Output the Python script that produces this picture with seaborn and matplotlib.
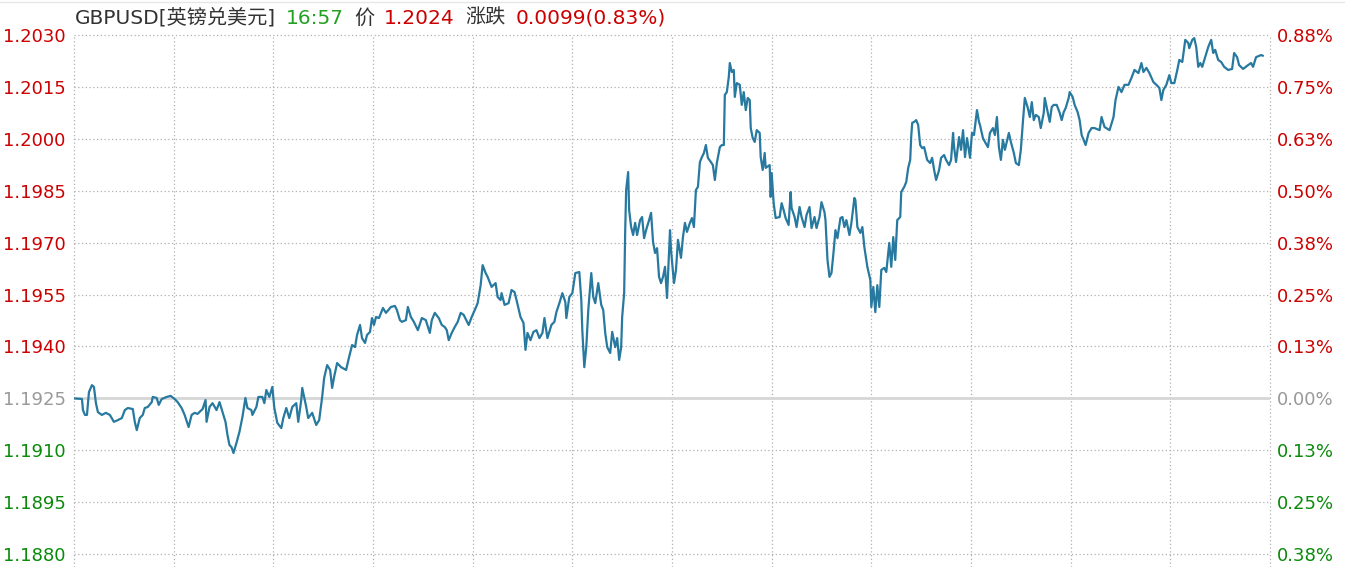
import matplotlib
matplotlib.use("Agg")
import matplotlib.pyplot as plt
from matplotlib.lines import Line2D
import numpy as np
import pandas as pd
import seaborn as sns

# ---------------- data ----------------
t_idx = [0, 8, 9, 11, 13, 15, 18, 20, 22, 24, 28, 32, 36, 40, 44, 48, 51, 54, 59, 61, 63, 66, 69, 71, 74, 78, 79,
         83, 85, 88, 93, 97, 101, 104, 108, 111, 115, 118, 121, 124, 129, 132, 133, 136, 139, 143, 146, 149, 152,
         154, 156, 158, 160, 163, 166, 169, 172, 174, 178, 179, 183, 185, 189, 191, 193,
         196, 199, 201, 204, 208, 210, 213, 216, 219, 223, 225, 228, 229, 233, 235, 239, 243, 246, 249, 251, 254,
         257, 259, 261, 264, 268, 273, 276, 279, 282, 284, 287, 289, 292, 294, 297, 299, 301, 303, 306, 310, 313,
         318, 322, 324, 327, 329, 333, 335, 338, 341, 345, 349, 353, 357, 359, 362, 366, 369, 372, 374, 376, 379,
         382, 385, 388, 391, 396, 399,
         403, 405, 408, 410, 413, 415, 419, 423, 425, 428, 429, 432, 436, 439, 442, 444, 448, 451, 453, 455, 458,
         461, 464, 467, 470, 472, 475, 479, 482, 484, 487, 490, 493, 494, 497, 500, 503, 507, 509, 510, 512, 514,
         516, 519, 521, 523, 526, 529, 531, 533, 535, 538, 540, 543, 545, 547, 549, 550, 552,
         553, 554, 556, 557, 559, 561, 563, 565, 568, 570, 572, 574, 577, 579, 581, 583, 585, 587, 589, 591, 593,
         595, 598, 599, 602, 604, 606, 609, 611, 613, 615, 618, 620, 622, 624, 626, 628, 630, 632, 634, 636, 639,
         641, 643, 645, 648, 650, 652, 653, 655, 657, 658, 660, 662, 663, 665, 668, 670, 672, 674, 676, 678, 679,
         681, 683, 685, 688, 689, 691, 693, 694, 698, 699, 700, 702, 704, 708, 710, 712, 714,
         717, 719, 720, 723, 725, 728, 730, 733, 735, 738, 740, 743, 745, 748, 750, 753, 754, 756, 758, 760, 762,
         764, 766, 769, 771, 773, 775, 778, 780, 783, 784, 786, 789, 791, 793, 796, 799, 800, 802, 804, 806, 808,
         810, 813, 815, 818, 820, 822, 824, 826, 829, 830, 833, 835, 837, 839, 840, 841, 843, 845, 847, 849, 851,
         853,
         856, 859, 861, 863, 865, 868, 870, 873, 875, 878, 880, 882, 883, 885, 888, 890, 892, 894, 896, 899, 901,
         903, 906, 908, 909, 912, 914, 917, 919, 922, 924, 926, 928, 930, 932, 934, 938, 940, 943, 945, 948, 950,
         952, 954, 957, 959, 961, 963, 965, 968, 970, 973, 974, 977, 979, 981, 983, 986, 989, 991, 993, 995, 998,
         999, 1002, 1004, 1007, 1009, 1011, 1013, 1015, 1018, 1021, 1024,
         1029, 1031, 1034, 1039, 1043, 1045, 1048, 1051, 1054, 1058, 1061, 1064, 1068, 1071, 1073, 1076, 1079,
         1083, 1086, 1089, 1091, 1093, 1096, 1099, 1101, 1104, 1107, 1109, 1112, 1115, 1118, 1119, 1122, 1124,
         1126, 1128, 1130, 1132, 1135, 1138, 1141, 1143, 1145, 1148, 1151, 1154, 1158, 1162, 1164, 1167, 1169,
         1173, 1178, 1181, 1183, 1186, 1191, 1193]

price = [1.19250, 1.19248, 1.19216, 1.19202, 1.19202, 1.19268, 1.19288, 1.19283, 1.19236, 1.19210, 1.19202,
         1.19208, 1.19202, 1.19182, 1.19187, 1.19193, 1.19216, 1.19222, 1.19219, 1.19182, 1.19158, 1.19193,
         1.19202, 1.19222, 1.19225, 1.19239, 1.19254, 1.19251, 1.19231, 1.19248, 1.19254, 1.19257, 1.19248,
         1.19239, 1.19222, 1.19202, 1.19167, 1.19202, 1.19208, 1.19205, 1.19219, 1.19245, 1.19182, 1.19225,
         1.19236, 1.19216, 1.19239, 1.19210, 1.19182, 1.19144, 1.19115, 1.19109, 1.19092, 1.19121, 1.19153,
         1.19196, 1.19251, 1.19222, 1.19216, 1.19202, 1.19225, 1.19254, 1.19254, 1.19236, 1.19274,
         1.19254, 1.19283, 1.19222, 1.19179, 1.19164, 1.19193, 1.19222, 1.19193, 1.19225, 1.19236, 1.19182,
         1.19245, 1.19280, 1.19225, 1.19193, 1.19208, 1.19173, 1.19187, 1.19254, 1.19309, 1.19346, 1.19332,
         1.19280, 1.19312, 1.19352, 1.19340, 1.19332, 1.19369, 1.19404, 1.19398, 1.19433, 1.19462, 1.19424,
         1.19410, 1.19433, 1.19442, 1.19482, 1.19462, 1.19485, 1.19482, 1.19511, 1.19497, 1.19514, 1.19517,
         1.19505, 1.19476, 1.19471, 1.19476, 1.19514, 1.19485, 1.19471, 1.19447, 1.19482, 1.19476, 1.19439,
         1.19476, 1.19497, 1.19482, 1.19462, 1.19456, 1.19447, 1.19418, 1.19439, 1.19456, 1.19471, 1.19497,
         1.19491, 1.19462, 1.19485,
         1.19511, 1.19525, 1.19577, 1.19635, 1.19612, 1.19601, 1.19572, 1.19583, 1.19543, 1.19534, 1.19554,
         1.19520, 1.19525, 1.19563, 1.19557, 1.19534, 1.19485, 1.19468, 1.19390, 1.19439, 1.19418, 1.19442,
         1.19447, 1.19424, 1.19439, 1.19482, 1.19424, 1.19462, 1.19471, 1.19499, 1.19525, 1.19554, 1.19528,
         1.19482, 1.19543, 1.19554, 1.19612, 1.19615, 1.19534, 1.19447, 1.19340, 1.19398, 1.19505, 1.19612,
         1.19543, 1.19525, 1.19583, 1.19520, 1.19505, 1.19439, 1.19398, 1.19381, 1.19442, 1.19398, 1.19424,
         1.19361, 1.19398, 1.19485, 1.19554,
         1.19728, 1.19852, 1.19904, 1.19794, 1.19745, 1.19722, 1.19757, 1.19722, 1.19765, 1.19774, 1.19713,
         1.19736, 1.19765, 1.19786, 1.19702, 1.19670, 1.19684, 1.19601, 1.19583, 1.19601, 1.19630, 1.19540,
         1.19736, 1.19679, 1.19583, 1.19621, 1.19708, 1.19656, 1.19716, 1.19757, 1.19731, 1.19757, 1.19771,
         1.19745, 1.19852, 1.19861, 1.19933, 1.19947, 1.19959, 1.19982, 1.19945, 1.19933, 1.19924, 1.19881,
         1.19930, 1.19976, 1.19982, 1.19982, 1.20127, 1.20135, 1.20179, 1.20219, 1.20193, 1.20199, 1.20121,
         1.20161, 1.20156, 1.20098, 1.20135, 1.20083, 1.20118, 1.20112, 1.20031, 1.20002, 1.19991, 1.20025,
         1.20017, 1.19947, 1.19910, 1.19959, 1.19916, 1.19924, 1.19832, 1.19901, 1.19814, 1.19771, 1.19774,
         1.19814, 1.19794, 1.19771,
         1.19751, 1.19846, 1.19800, 1.19774, 1.19745, 1.19803, 1.19774, 1.19745, 1.19780, 1.19803, 1.19742,
         1.19774, 1.19742, 1.19774, 1.19817, 1.19788, 1.19765, 1.19650, 1.19601, 1.19612, 1.19670, 1.19736,
         1.19713, 1.19771, 1.19774, 1.19745, 1.19765, 1.19722, 1.19757, 1.19829, 1.19823, 1.19745, 1.19728,
         1.19745, 1.19687, 1.19630, 1.19592, 1.19514, 1.19572, 1.19499, 1.19577, 1.19514, 1.19621, 1.19627,
         1.19615, 1.19699, 1.19630, 1.19716, 1.19650, 1.19765, 1.19774, 1.19846, 1.19861, 1.19875, 1.19916,
         1.19939, 1.20005, 1.20046, 1.20049, 1.20054, 1.20040, 1.19982, 1.19973, 1.19976,
         1.19939, 1.19930, 1.19945, 1.19910, 1.19881, 1.19910, 1.19945, 1.19953, 1.19939, 1.19924, 1.19939,
         1.20017, 1.19976, 1.19933, 1.20005, 1.19968, 1.20025, 1.19947, 1.20002, 1.19945, 1.20017, 1.20011,
         1.20083, 1.20049, 1.20040, 1.20002, 1.19991, 1.19976, 1.20017, 1.20031, 1.20011, 1.20063, 1.19976,
         1.19939, 1.19997, 1.19968, 1.20017, 1.19991, 1.19959, 1.19930, 1.19924, 1.19968, 1.20046, 1.20118,
         1.20089, 1.20063, 1.20106, 1.20054, 1.20069, 1.20063, 1.20031, 1.20075, 1.20118, 1.20077, 1.20049,
         1.20092, 1.20098, 1.20098, 1.20075, 1.20054, 1.20077, 1.20089, 1.20118, 1.20135, 1.20121, 1.20098,
         1.20077, 1.20054, 1.20011, 1.19997, 1.19982, 1.20017, 1.20031, 1.20031,
         1.20025, 1.20063, 1.20034, 1.20025, 1.20063, 1.20112, 1.20150, 1.20135, 1.20156, 1.20156, 1.20176,
         1.20199, 1.20190, 1.20219, 1.20193, 1.20205, 1.20190, 1.20164, 1.20156, 1.20147, 1.20112, 1.20141,
         1.20156, 1.20184, 1.20161, 1.20161, 1.20199, 1.20228, 1.20222, 1.20286, 1.20277, 1.20262, 1.20286,
         1.20291, 1.20265, 1.20208, 1.20219, 1.20208, 1.20236, 1.20265, 1.20286, 1.20248, 1.20257, 1.20228,
         1.20222, 1.20208, 1.20199, 1.20202, 1.20248, 1.20236, 1.20213, 1.20202, 1.20213, 1.20219, 1.20208,
         1.20236, 1.20242, 1.20240]

prev_close = 1.1925
price_ticks = [1.2030, 1.2015, 1.2000, 1.1985, 1.1970, 1.1955, 1.1940, 1.1925, 1.1910, 1.1895, 1.1880]
price_labels = ["1.2030", "1.2015", "1.2000", "1.1985", "1.1970", "1.1955", "1.1940", "1.1925", "1.1910",
                "1.1895", "1.1880"]
pct_labels = ["0.88%", "0.75%", "0.63%", "0.50%", "0.38%", "0.25%", "0.13%", "0.00%", "0.13%", "0.25%", "0.38%"]
time_grid = list(range(0, 1201, 100))

title_parts = [("GBPUSD[英镑兑美元]", "#333333"), ("16:57", "#22a022"), ("价", "#333333"),
               ("1.2024", "#cc0000"), ("涨跌", "#333333"), ("0.0099(0.83%)", "#cc0000")]

# ---------------- style ----------------
sns.set_style("white")
plt.rcParams["font.family"] = ["DejaVu Sans", "Noto Sans CJK SC"]

W, H = 1345, 567
fig = plt.figure(figsize=(W / 100, H / 100), dpi=100)
fig.patch.set_facecolor("white")
ax = fig.add_axes([74 / W, 0, 1196 / W, 1 - 35 / H])

df = pd.DataFrame({"t": t_idx, "price": price})
sns.lineplot(data=df, x="t", y="price", ax=ax, color="#27799f", linewidth=1.6,
             estimator=None, zorder=5)

ax.set_xlim(0, 1200)
ax.set_ylim(1.1880 - 13 * 0.0015 / 52, 1.2030)
ax.set_xticks(time_grid)
ax.set_yticks(price_ticks)
ax.set_yticklabels(price_labels)
ax.set_xlabel("")
ax.set_ylabel("")
ax.grid(True, linestyle=(0, (1, 2)), color="#b0b0b0", linewidth=0.9)
for gl in ax.get_xgridlines() + ax.get_ygridlines():
    gl.set_clip_on(False)
ax.axhline(prev_close, color="#d6d6d6", linewidth=2, zorder=3)
for s in ax.spines.values():
    s.set_visible(False)
ax.tick_params(axis="both", length=0, labelbottom=False)
ax.tick_params(axis="y", pad=6, labelsize=13)


def tick_color(v):
    if abs(v - prev_close) < 1e-9:
        return "#999999"
    return "#cc0000" if v > prev_close else "#0a8a0a"


for lbl, v in zip(ax.get_yticklabels(), price_ticks):
    lbl.set_color(tick_color(v))

ax2 = ax.twinx()
ax2.set_ylim(ax.get_ylim())
ax2.set_yticks(price_ticks)
ax2.set_yticklabels(pct_labels)
ax2.grid(False)
for s in ax2.spines.values():
    s.set_visible(False)
ax2.tick_params(axis="y", length=0, pad=5, labelsize=13)
for lbl, v in zip(ax2.get_yticklabels(), price_ticks):
    lbl.set_color(tick_color(v))

fig.add_artist(Line2D([0, 1], [1 - 1.5 / H, 1 - 1.5 / H], color="#e6e6e6", linewidth=1))

# title pieces chained horizontally
fig.canvas.draw()
renderer = fig.canvas.get_renderer()
xpos = 75
for text, color in title_parts:
    tx = fig.text(xpos / W, 1 - 18 / H, text, color=color, fontsize=14.5, ha="left", va="center")
    bb = tx.get_window_extent(renderer=renderer)
    xpos = bb.x1 + 10

fig.savefig("out.png", dpi=100, facecolor="white")
